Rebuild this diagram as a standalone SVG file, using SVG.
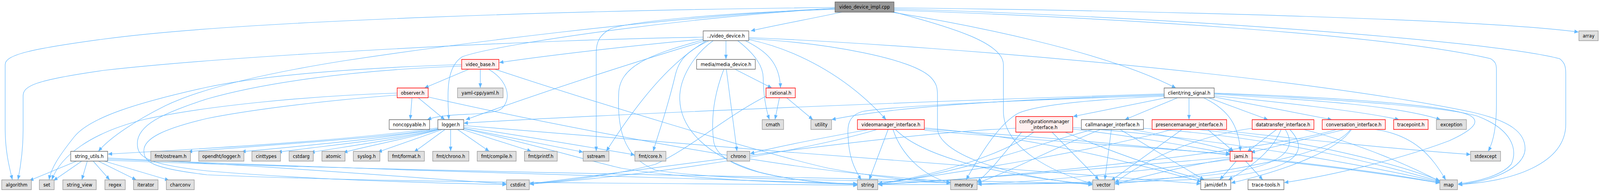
<svg xmlns="http://www.w3.org/2000/svg" width="4637" height="491" viewBox="0 0 4637 491">
<style>
.e{fill:none;stroke:#63B8FF;stroke-width:1.2;marker-end:url(#a);vector-effect:non-scaling-stroke}
.g rect{fill:#E0E0E0;stroke:#999999;stroke-width:1.3;vector-effect:non-scaling-stroke}
.w rect{fill:#FFFFFF;stroke:#666666;stroke-width:1.3;vector-effect:non-scaling-stroke}
.r rect{fill:#FFF0F0;stroke:#FF0000;stroke-width:1.3;vector-effect:non-scaling-stroke}
.k rect{fill:#999999;stroke:#666666;stroke-width:1.3;vector-effect:non-scaling-stroke}
text{font-family:"DejaVu Sans","Liberation Sans",sans-serif;font-size:13px;text-anchor:middle;fill:#000}
</style>
<defs>
<marker id="a" markerUnits="userSpaceOnUse" markerWidth="12" markerHeight="10" refX="12" refY="5" orient="auto">
<path d="M0,0 L12,5 L0,10 z" fill="#63B8FF"/>
</marker>
</defs>
<rect width="4637" height="491" fill="#FFFFFF"/>
<g id="diagram" transform="scale(0.8833 1)">
<g id="edges">
<path class="e" d="M2440,31 C2350,48 2250,64 2176,79"/>
<path class="e" d="M2420,19 C1700,26 700,52 300,100 C90,125 15,140 15,165 L15,330 C15,385 26,425 36,460"/>
<path class="e" d="M2420,22 C2050,38 1450,110 1340,145 C1295,170 1295,230 1301,306"/>
<path class="e" d="M2420,24 C2100,32 1830,55 1771,73 C1735,90 1728,110 1728,135 L1728,387"/>
<path class="e" d="M2420,21 C1900,45 1300,115 1000,155 C750,190 580,228 480,270 C400,305 320,350 285,387"/>
<path class="e" d="M2583,31 C2800,62 3200,130 3408,225"/>
<path class="e" d="M2588,30 C2760,70 2908,110 2908,165 L2908,283 C2908,380 3050,440 3166,470"/>
<path class="e" d="M2591,23 C3300,40 4300,100 4520,150 C4535,160 4538,170 4538,190 L4538,317 C4538,420 4380,465 4226,472"/>
<path class="e" d="M2591,26 C3200,45 4000,85 4320,150 C4335,158 4337,165 4337,180 L4337,267 C4337,320 4330,360 4313,387"/>
<path class="e" d="M2591,20 C3400,28 4300,50 4575,82"/>
<path class="e" d="M2104,104 L2104,152"/>
<path class="e" d="M2038,100 C1850,115 1600,140 1447,160"/>
<path class="e" d="M2045,104 C1950,130 1700,195 1350,306"/>
<path class="e" d="M2055,104 C1980,135 1965,160 1955,200 C1930,290 1905,350 1893,387"/>
<path class="e" d="M2048,104 C1960,150 1870,230 1757,387"/>
<path class="e" d="M2067,104 C2010,140 1970,200 1970,250 C1970,330 2050,400 2200,440 C2300,462 2400,470 2485,472"/>
<path class="e" d="M2138,104 C2190,140 2212,170 2212,200 C2212,240 2220,280 2230,306"/>
<path class="e" d="M2160,104 C2220,130 2260,160 2262,225"/>
<path class="e" d="M2170,101 C2300,125 2450,190 2568,306"/>
<path class="e" d="M2170,96 C2800,120 3800,200 4267,287 C4380,310 4420,340 4420,380 C4420,430 4320,465 4226,472"/>
<path class="e" d="M2170,99 C2400,110 2650,150 2700,200 C2715,215 2717,225 2717,245 L2717,327 C2717,390 2900,450 3166,473"/>
<path class="e" d="M2038,95 C1600,100 700,140 300,180 C100,205 67,220 67,245 L67,333 C67,385 60,425 52,460"/>
<path class="e" d="M2038,102 C1880,140 1795,170 1793,240 C1790,320 1800,400 1900,435 C2100,465 2500,458 2755,468"/>
<path class="e" d="M2130,177 L2237,225"/>
<path class="e" d="M2105,177 L2136,387"/>
<path class="e" d="M2098,177 C2070,240 2060,300 2068,360 C2080,440 2300,465 2485,471"/>
<path class="e" d="M1359,177 L1230,225"/>
<path class="e" d="M1392,177 L1392,225"/>
<path class="e" d="M1416,177 C1470,205 1485,250 1455,277 C1420,300 1300,285 1238,306"/>
<path class="e" d="M1434,177 C1700,255 2200,390 2400,430 C2550,455 2650,462 2755,468"/>
<path class="e" d="M1338,165 C1000,175 750,195 600,223 C400,262 260,300 215,350 C170,400 148,430 142,460"/>
<path class="e" d="M1338,169 C1000,180 750,215 600,253 C470,290 398,320 398,367 C398,400 420,420 600,437 C900,460 1250,468 1468,472"/>
<path class="e" d="M1194,250 L1189,306"/>
<path class="e" d="M1212,250 L1289,306"/>
<path class="e" d="M1151,238 C900,245 600,270 420,305 C260,340 175,400 150,460"/>
<path class="e" d="M1151,243 C900,260 700,285 600,303 C470,330 417,355 417,385 C417,415 440,430 600,447 C1200,470 2000,468 2485,474"/>
<path class="e" d="M1241,248 C1600,320 2200,420 2500,445 C2620,455 2700,462 2755,466"/>
<path class="e" d="M1269,327 C1000,360 600,380 313,394"/>
<path class="e" d="M1271,329 C1100,355 700,375 545,388"/>
<path class="e" d="M1272,329 C1100,357 850,375 700,388"/>
<path class="e" d="M1274,330 C1150,355 950,372 805,389"/>
<path class="e" d="M1276,330 C1150,358 1000,375 900,390"/>
<path class="e" d="M1279,330 C1180,355 1070,372 995,390"/>
<path class="e" d="M1282,331 L1095,389"/>
<path class="e" d="M1290,331 L1200,389"/>
<path class="e" d="M1306,331 L1306,387"/>
<path class="e" d="M1326,331 L1418,387"/>
<path class="e" d="M1340,331 L1540,387"/>
<path class="e" d="M1344,328 L1690,389"/>
<path class="e" d="M1344,325 C1500,345 1700,375 1840,396"/>
<path class="e" d="M1344,321 C2000,370 3000,440 3480,470"/>
<path class="e" d="M1344,329 C1550,370 1700,410 1800,430 C2000,460 2300,468 2485,471"/>
<path class="e" d="M222,412 L85,462"/>
<path class="e" d="M237,412 L155,462"/>
<path class="e" d="M253,412 L237,460"/>
<path class="e" d="M270,412 L318,460"/>
<path class="e" d="M285,412 L395,460"/>
<path class="e" d="M302,412 L490,461"/>
<path class="e" d="M312,404 C800,425 1200,455 1468,470"/>
<path class="e" d="M312,407 C1000,430 2000,460 2485,470"/>
<path class="e" d="M312,410 C1200,440 2500,455 3166,470"/>
<path class="e" d="M2259,250 L2246,306"/>
<path class="e" d="M2280,250 L2356,306"/>
<path class="e" d="M2222,245 C2100,300 2000,380 1900,420 C1750,455 1600,465 1534,470"/>
<path class="e" d="M3374,240 C2800,255 1800,290 1344,315"/>
<path class="e" d="M3374,242 C3000,252 2600,270 2410,306"/>
<path class="e" d="M3374,244 C3000,255 2600,270 2500,285 C2460,295 2455,320 2458,350 C2460,400 2475,430 2496,460"/>
<path class="e" d="M3374,246 C3150,255 3000,270 2950,290 C2900,315 2850,380 2800,460"/>
<path class="e" d="M3380,250 L3110,298"/>
<path class="e" d="M3413,250 L3260,306"/>
<path class="e" d="M3446,250 L3446,306"/>
<path class="e" d="M3488,250 C3560,280 3590,320 3595,387"/>
<path class="e" d="M3503,250 L3675,306"/>
<path class="e" d="M3519,248 L3860,306"/>
<path class="e" d="M3519,245 C3700,260 3950,285 4055,306"/>
<path class="e" d="M3519,241 C3800,255 4050,270 4175,306"/>
<path class="e" d="M3519,238 C3900,250 4200,270 4260,295 C4290,310 4275,330 4200,360 C4050,410 3850,450 3722,467"/>
<path class="e" d="M3519,239 C3900,255 4200,275 4282,297 C4380,330 4400,380 4380,420 C4350,450 4280,465 4226,470"/>
<path class="e" d="M2519,331 C2400,350 2250,375 2174,393"/>
<path class="e" d="M2542,331 C2400,370 2000,440 1535,471"/>
<path class="e" d="M2574,331 L2519,460"/>
<path class="e" d="M2588,331 C2610,390 2670,450 2755,468"/>
<path class="e" d="M2595,331 C2650,380 2800,440 3166,472"/>
<path class="e" d="M2679,327 C3000,350 3300,420 3482,465"/>
<path class="e" d="M2679,330 C3200,360 3900,420 4173,468"/>
<path class="e" d="M2679,333 C3000,360 3400,380 3565,395"/>
<path class="e" d="M2996,338 C2900,400 2700,450 2545,470"/>
<path class="e" d="M3049,338 L3185,460"/>
<path class="e" d="M3087,338 C3200,380 3350,430 3490,460"/>
<path class="e" d="M3109,330 C3300,350 3450,375 3565,393"/>
<path class="e" d="M3109,326 C3500,350 3950,420 4173,466"/>
<path class="e" d="M2961,338 C2920,380 2880,430 2832,466"/>
<path class="e" d="M2944,328 C2600,340 2000,420 1535,470"/>
<path class="e" d="M3167,331 C3000,370 2800,440 2545,471"/>
<path class="e" d="M3190,331 C3050,380 2950,430 2833,468"/>
<path class="e" d="M3221,331 L3202,460"/>
<path class="e" d="M3246,331 L3490,460"/>
<path class="e" d="M3314,328 C3700,350 4000,420 4173,464"/>
<path class="e" d="M3280,331 C3400,350 3500,370 3572,387"/>
<path class="e" d="M3426,331 L3220,462"/>
<path class="e" d="M3397,331 C3200,380 2800,440 2545,469"/>
<path class="e" d="M3470,331 C3800,360 4050,420 4173,462"/>
<path class="e" d="M3520,331 C3800,360 4100,385 4262,395"/>
<path class="e" d="M3500,331 L3575,387"/>
<path class="e" d="M3700,331 L3615,388"/>
<path class="e" d="M3713,331 C3690,380 3640,420 3560,460"/>
<path class="e" d="M3725,331 C3760,380 3730,430 3480,450 C3100,475 2700,472 2545,472"/>
<path class="e" d="M3738,331 C3800,390 3760,440 3480,458 C3200,470 2950,470 2833,471"/>
<path class="e" d="M3778,331 C3950,370 4100,430 4173,464"/>
<path class="e" d="M3629,328 C3450,350 3300,420 3231,468"/>
<path class="e" d="M3874,331 C3700,380 3000,450 2545,472"/>
<path class="e" d="M3897,331 L3625,390"/>
<path class="e" d="M3917,331 C3880,380 3750,430 3568,468"/>
<path class="e" d="M3914,331 C3860,400 3500,450 3231,470"/>
<path class="e" d="M3985,331 C4100,345 4150,400 4190,460"/>
<path class="e" d="M3583,412 L3535,460"/>
<path class="e" d="M3610,412 L3660,460"/>
<path class="e" d="M3629,405 C3850,425 4050,450 4173,468"/>
<path class="e" d="M3565,402 C3200,430 2800,460 2545,471"/>
<path class="e" d="M3565,405 C3400,430 3300,455 3231,471"/>
<path class="e" d="M3565,408 C3300,440 3000,465 2833,471"/>
</g>
<g id="n_root" class="k"><rect x="2420" y="5" width="171" height="26"/><text x="2505.5" y="22.5">video_device_impl.cpp</text></g>
<g id="n_vd" class="w"><rect x="2038" y="79" width="132" height="25"/><text x="2104" y="96">../video_device.h</text></g>
<g id="n_md" class="w"><rect x="2019" y="152" width="170" height="25"/><text x="2104" y="169">media/media_device.h</text></g>
<g id="n_vb" class="r"><rect x="1338" y="152" width="108" height="25"/><text x="1392" y="169">video_base.h</text></g>
<g id="n_ob" class="r"><rect x="1151" y="225" width="90" height="25"/><text x="1196" y="242">observer.h</text></g>
<g id="n_yaml" class="g"><rect x="1326" y="225" width="132" height="25"/><text x="1392" y="242">yaml-cpp/yaml.h</text></g>
<g id="n_rat" class="r"><rect x="2220" y="225" width="85" height="25"/><text x="2262.5" y="242">rational.h</text></g>
<g id="n_crs" class="w"><rect x="3374" y="225" width="145" height="25"/><text x="3446.5" y="242">client/ring_signal.h</text></g>
<g id="n_nc" class="w"><rect x="1128" y="306" width="117" height="25"/><text x="1186.5" y="323">noncopyable.h</text></g>
<g id="n_log" class="w"><rect x="1269" y="306" width="75" height="25"/><text x="1306.5" y="323">logger.h</text></g>
<g id="n_cmath" class="g"><rect x="2209" y="306" width="62" height="25"/><text x="2240" y="323">cmath</text></g>
<g id="n_util" class="g"><rect x="2350" y="306" width="60" height="25"/><text x="2380" y="323">utility</text></g>
<g id="n_vm" class="r"><rect x="2485" y="306" width="194" height="25"/><text x="2582" y="323">videomanager_interface.h</text></g>
<g id="n_cfg" class="r"><rect x="2944" y="298" width="165" height="40"/><text x="3026.5" y="315">configurationmanager</text><text x="3026.5" y="330">_interface.h</text></g>
<g id="n_call" class="w"><rect x="3134" y="306" width="180" height="25"/><text x="3224" y="323">callmanager_interface.h</text></g>
<g id="n_pres" class="r"><rect x="3339" y="306" width="216" height="25"/><text x="3447" y="323">presencemanager_interface.h</text></g>
<g id="n_dt" class="r"><rect x="3629" y="306" width="179" height="25"/><text x="3718.5" y="323">datatransfer_interface.h</text></g>
<g id="n_conv" class="r"><rect x="3832" y="306" width="183" height="25"/><text x="3923.5" y="323">conversation_interface.h</text></g>
<g id="n_tp" class="r"><rect x="4039" y="306" width="100" height="25"/><text x="4089" y="323">tracepoint.h</text></g>
<g id="n_exc" class="g"><rect x="4163" y="306" width="87" height="25"/><text x="4206.5" y="323">exception</text></g>
<g id="n_su" class="w"><rect x="205" y="387" width="107" height="25"/><text x="258.5" y="404">string_utils.h</text></g>
<g id="n_ost" class="g"><rect x="437" y="387" width="115" height="25"/><text x="494.5" y="404">fmt/ostream.h</text></g>
<g id="n_odh" class="g"><rect x="576" y="387" width="131" height="25"/><text x="641.5" y="404">opendht/logger.h</text></g>
<g id="n_cint" class="g"><rect x="730" y="387" width="83" height="25"/><text x="771.5" y="404">cinttypes</text></g>
<g id="n_cstdarg" class="g"><rect x="838" y="387" width="70" height="25"/><text x="873" y="404">cstdarg</text></g>
<g id="n_atomic" class="g"><rect x="933" y="387" width="67" height="25"/><text x="966.5" y="404">atomic</text></g>
<g id="n_syslog" class="g"><rect x="1024" y="387" width="77" height="25"/><text x="1062.5" y="404">syslog.h</text></g>
<g id="n_ffmt" class="g"><rect x="1125" y="387" width="105" height="25"/><text x="1177.5" y="404">fmt/format.h</text></g>
<g id="n_fchr" class="g"><rect x="1254" y="387" width="105" height="25"/><text x="1306.5" y="404">fmt/chrono.h</text></g>
<g id="n_fcomp" class="g"><rect x="1383" y="387" width="113" height="25"/><text x="1439.5" y="404">fmt/compile.h</text></g>
<g id="n_fprintf" class="g"><rect x="1520" y="387" width="95" height="25"/><text x="1567.5" y="404">fmt/printf.h</text></g>
<g id="n_sstream" class="g"><rect x="1690" y="387" width="75" height="25"/><text x="1727.5" y="404">sstream</text></g>
<g id="n_fcore" class="g"><rect x="1840" y="387" width="90" height="25"/><text x="1885" y="404">fmt/core.h</text></g>
<g id="n_chrono" class="g"><rect x="2107" y="387" width="66" height="25"/><text x="2140" y="404">chrono</text></g>
<g id="n_jami" class="r"><rect x="3565" y="387" width="64" height="25"/><text x="3597" y="404">jami.h</text></g>
<g id="n_stdexcept" class="g"><rect x="4262" y="387" width="87" height="25"/><text x="4305.5" y="404">stdexcept</text></g>
<g id="n_alg" class="g"><rect x="5" y="460" width="86" height="25"/><text x="48" y="477">algorithm</text></g>
<g id="n_set" class="g"><rect x="114" y="460" width="43" height="25"/><text x="135.5" y="477">set</text></g>
<g id="n_sv" class="g"><rect x="182" y="460" width="97" height="25"/><text x="230.5" y="477">string_view</text></g>
<g id="n_regex" class="g"><rect x="304" y="460" width="59" height="25"/><text x="333.5" y="477">regex</text></g>
<g id="n_iter" class="g"><rect x="387" y="460" width="71" height="25"/><text x="422.5" y="477">iterator</text></g>
<g id="n_charconv" class="g"><rect x="482" y="460" width="81" height="25"/><text x="522.5" y="477">charconv</text></g>
<g id="n_cstdint" class="g"><rect x="1468" y="460" width="66" height="25"/><text x="1501" y="477">cstdint</text></g>
<g id="n_string" class="g"><rect x="2485" y="460" width="59" height="25"/><text x="2514.5" y="477">string</text></g>
<g id="n_memory" class="g"><rect x="2755" y="460" width="77" height="25"/><text x="2793.5" y="477">memory</text></g>
<g id="n_vector" class="g"><rect x="3167" y="460" width="63" height="25"/><text x="3198.5" y="477">vector</text></g>
<g id="n_def" class="w"><rect x="3480" y="460" width="87" height="25"/><text x="3523.5" y="477">jami/def.h</text></g>
<g id="n_tt" class="w"><rect x="3617" y="460" width="104" height="25"/><text x="3669" y="477">trace-tools.h</text></g>
<g id="n_map" class="g"><rect x="4173" y="460" width="51" height="25"/><text x="4198.5" y="477">map</text></g>
<g id="n_array" class="g"><rect x="4576" y="79" width="56" height="25"/><text x="4604" y="96">array</text></g>
</g>
</svg>
